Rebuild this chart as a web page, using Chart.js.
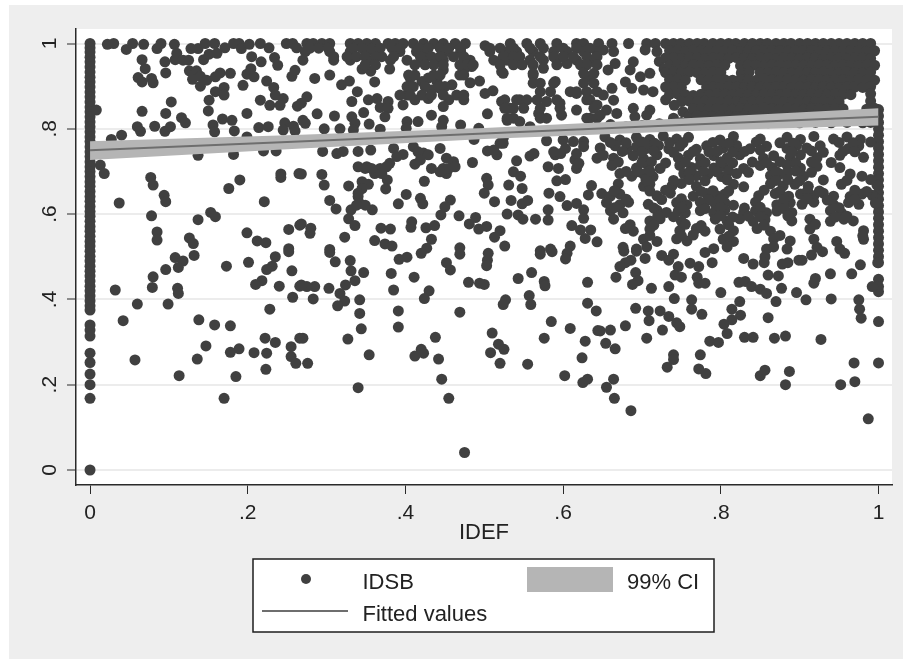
<!DOCTYPE html>
<html><head><meta charset="utf-8">
<style>html,body{margin:0;padding:0;background:#fff}canvas{display:block}#w{width:903px;height:659px;position:relative}</style>
<script src="https://cdn.jsdelivr.net/npm/chart.js@4"></script>
</head><body><div id="w"><canvas id="c" width="903" height="659"></canvas></div>
<script>
const xTickValues=[0,.2,.4,.6,.8,1];
const yTickValues=[0,.2,.4,.6,.8,1];
const tickLabels={0:"0",0.2:".2",0.4:".4",0.6:".6",0.8:".8",1:"1"};
const xTitle="IDEF";
const legendLabels=["IDSB","99% CI","Fitted values"];
const fitX=[0,.25,.5,.75,1];
const fitted=[.7495,.769,.789,.809,.828];
const ciUpper=[.771,.785,.802,.824,.848];
const ciLower=[.727,.752,.776,.794,.808];
const idefZeroIdsb=[1,.99,.98,.968,.957,.945,.933,.921,.91,.898,.886,.875,.863,.851,.84,.828,.816,.805,.793,.781,.77,.758,.746,.735,.723,.711,.7,.688,.676,.665,.653,.641,.63,.618,.606,.595,.583,.571,.56,.548,.536,.525,.513,.501,.49,.478,.466,.455,.443,.431,.42,.408,.397,.385,.375,.34,.328,.314,.274,.252,.225,.2,.168,0];
const idefOneIdsb=[.845,.83,.815,.8,.785,.77,.755,.74,.725,.71,.695,.68,.665,.65,.635,.62,.605,.59,.575,.56,.545,.53,.515,.5,.486,.447,.43,.418,.348,.251];
const leftTop=[[.022,.998],[.03,1],[.046,.986],[.054,1],[.068,.998],[.085,.988],[.09,1],[.107,.998],[.128,.988],[.137,.988],[.146,1],[.158,1],[.171,.99],[.182,1],[.189,1],[.192,.988],[.202,.998],[.216,1],[.227,.99],[.249,1],[.257,1],[.262,.99],[.066,.962],[.07,.941],[.061,.92],[.066,.91],[.078,.918],[.08,.908],[.095,.957],[.096,.931],[.108,.962],[.11,.977],[.118,.961],[.125,.961],[.126,.936],[.135,.936],[.13,.916],[.14,.923],[.14,.9],[.148,.914],[.159,.922],[.165,.931],[.178,.93],[.144,.962],[.151,.975],[.161,.977],[.199,.928],[.204,.941],[.208,.922],[.205,.969],[.217,.957],[.234,.967],[.238,.949],[.256,.923],[.26,.937],[.194,.902],[.224,.912],[.233,.897],[.235,.879],[.245,.871],[.216,.867],[.228,.855],[.241,.855],[.263,.853],[.159,.887],[.17,.897],[.17,.879],[.151,.867],[.15,.842],[.103,.863],[.066,.841],[.096,.836],[.116,.826],[.121,.814],[.199,.836],[.168,.823],[.18,.82],[.156,.809],[.158,.793],[.183,.795],[.06,.805],[.064,.794],[.082,.806],[.095,.794],[.102,.805],[.214,.803],[.226,.805],[.247,.814],[.245,.797],[.258,.806],[.26,.795],[.04,.785],[.027,.775],[.199,.781],[.008,.844]];
const leftLow=[[.182,.74],[.22,.748],[.236,.748],[.137,.738],[.013,.715],[.018,.695],[.077,.686],[.08,.668],[.094,.644],[.096,.629],[.037,.626],[.176,.66],[.19,.68],[.242,.694],[.242,.686],[.265,.695],[.221,.629],[.078,.596],[.153,.604],[.159,.594],[.137,.587],[.252,.564],[.266,.574],[.085,.558],[.085,.539],[.199,.556],[.212,.537],[.223,.533],[.126,.544],[.131,.531],[.252,.519],[.132,.503],[.108,.498],[.118,.49],[.112,.475],[.096,.47],[.08,.453],[.079,.428],[.032,.422],[.111,.426],[.112,.414],[.06,.389],[.099,.389],[.042,.35],[.138,.352],[.158,.34],[.178,.338],[.057,.258],[.136,.26],[.147,.291],[.178,.276],[.189,.284],[.113,.221],[.185,.219],[.17,.168],[.173,.478],[.201,.487],[.235,.5],[.231,.478],[.224,.47],[.256,.467],[.218,.444],[.21,.435],[.24,.431],[.266,.431],[.257,.405],[.228,.377],[.222,.309],[.235,.299],[.266,.309],[.255,.289],[.255,.266],[.261,.25],[.208,.275],[.224,.274],[.223,.236],[.252,.512]];
const midTop=[[.275,1],[.283,1],[.294,1],[.304,1],[.33,1],[.34,1],[.351,1],[.362,1],[.378,1],[.387,1],[.397,1],[.41,1],[.423,1],[.436,1],[.448,1],[.463,1],[.476,1],[.501,.995],[.533,1],[.554,1],[.571,1],[.592,1],[.617,1],[.626,1],[.645,1],[.273,.981],[.304,.981],[.33,.981],[.351,.981],[.366,.981],[.393,.981],[.414,.981],[.427,.981],[.452,.981],[.47,.981],[.507,.981],[.529,.981],[.541,.981],[.562,.981],[.588,.981],[.605,.981],[.626,.981],[.643,.981],[.27,.961],[.309,.961],[.33,.961],[.359,.961],[.381,.961],[.402,.961],[.423,.961],[.44,.961],[.448,.961],[.474,.961],[.482,.961],[.512,.961],[.537,.961],[.529,.961],[.558,.961],[.575,.961],[.592,.961],[.617,.961],[.634,.961],[.285,.918],[.304,.926],[.319,.903],[.329,.912],[.345,.94],[.356,.935],[.361,.91],[.38,.94],[.406,.919],[.421,.911],[.429,.919],[.44,.911],[.448,.938],[.459,.903],[.474,.938],[.484,.946],[.482,.908],[.494,.912],[.522,.934],[.562,.926],[.575,.942],[.59,.911],[.605,.953],[.634,.922],[.402,.879],[.412,.868],[.429,.871],[.444,.895],[.455,.868],[.474,.868],[.397,.856],[.448,.852],[.433,.891],[.501,.883],[.511,.889],[.275,.875],[.268,.86],[.339,.887],[.332,.864],[.353,.868],[.364,.871],[.368,.85],[.378,.864],[.378,.848],[.347,.838],[.374,.828],[.332,.828],[.336,.813],[.288,.835],[.31,.83],[.27,.82],[.273,.813],[.354,.811],[.297,.8],[.317,.8],[.334,.797],[.368,.799],[.402,.817],[.401,.801],[.416,.817],[.433,.832],[.448,.82],[.446,.805],[.47,.809],[.504,.835],[.522,.864],[.545,.868],[.533,.848],[.529,.82],[.545,.817],[.558,.805],[.569,.836],[.579,.825],[.579,.864],[.596,.86],[.598,.832],[.617,.844],[.617,.883],[.634,.868],[.634,.825],[.643,.856],[.493,.801]];
const midTopExtra=[[.279,.989],[.29,.989],[.302,.989],[.334,.989],[.345,.989],[.357,.989],[.368,.989],[.383,.989],[.393,.989],[.417,.989],[.429,.989],[.444,.989],[.455,.989],[.47,.989],[.309,.969],[.326,.969],[.338,.969],[.349,.969],[.362,.969],[.37,.969],[.385,.969],[.419,.969],[.433,.969],[.444,.969],[.461,.969],[.474,.969],[.349,.95],[.362,.95],[.412,.95],[.425,.95],[.436,.95],[.448,.95],[.469,.95],[.478,.95],[.486,.95],[.404,.926],[.412,.926],[.436,.926],[.444,.926],[.469,.926],[.474,.926],[.402,.899],[.41,.899],[.425,.899],[.442,.899],[.45,.899],[.393,.879],[.406,.879],[.421,.879],[.433,.879],[.448,.879],[.465,.879],[.474,.879],[.507,.989],[.52,.989],[.537,.989],[.558,.989],[.575,.989],[.6,.989],[.617,.989],[.634,.989],[.524,.969],[.537,.969],[.545,.969],[.571,.969],[.588,.969],[.6,.969],[.613,.969],[.63,.969],[.643,.969],[.52,.95],[.537,.95],[.548,.95],[.562,.95],[.592,.95],[.622,.95],[.63,.95],[.643,.95],[.524,.93],[.562,.93],[.626,.93],[.639,.93],[.562,.907],[.571,.907],[.588,.907],[.626,.907],[.639,.907],[.571,.887],[.584,.887],[.609,.887],[.617,.887],[.63,.887],[.643,.887],[.526,.868],[.541,.868],[.554,.868],[.567,.868],[.592,.868],[.63,.868],[.526,.848],[.537,.848],[.55,.848],[.571,.848],[.596,.848],[.639,.848],[.537,.825],[.529,.825],[.571,.825],[.63,.825],[.643,.825]];
const midLow=[[.295,.747],[.313,.742],[.321,.747],[.34,.747],[.356,.75],[.385,.754],[.397,.74],[.38,.719],[.368,.707],[.361,.695],[.34,.711],[.351,.711],[.412,.717],[.423,.743],[.444,.754],[.41,.758],[.452,.731],[.461,.723],[.448,.707],[.433,.707],[.452,.695],[.485,.721],[.487,.775],[.504,.748],[.516,.739],[.524,.766],[.541,.725],[.558,.736],[.579,.772],[.581,.711],[.594,.707],[.6,.774],[.613,.77],[.626,.77],[.59,.739],[.603,.754],[.626,.758],[.615,.727],[.617,.707],[.643,.731],[.537,.699],[.546,.689],[.268,.694],[.294,.693],[.297,.668],[.328,.666],[.345,.676],[.353,.67],[.345,.66],[.377,.68],[.375,.659],[.424,.677],[.503,.684],[.505,.668],[.5,.649],[.531,.668],[.548,.66],[.592,.678],[.603,.681],[.636,.667],[.632,.645],[.582,.649],[.596,.641],[.304,.632],[.312,.612],[.34,.641],[.342,.625],[.331,.61],[.358,.61],[.328,.589],[.336,.573],[.391,.624],[.401,.646],[.419,.637],[.422,.624],[.457,.633],[.45,.617],[.445,.598],[.513,.629],[.534,.632],[.548,.624],[.555,.632],[.605,.62],[.617,.625],[.626,.61],[.581,.61],[.529,.6],[.543,.598],[.549,.588],[.565,.588],[.581,.586],[.626,.59],[.468,.596],[.489,.592],[.481,.577],[.268,.577],[.28,.567],[.279,.555],[.323,.546],[.369,.567],[.381,.565],[.408,.582],[.407,.569],[.426,.568],[.437,.573],[.493,.565],[.503,.571],[.52,.561],[.513,.546],[.361,.538],[.374,.53],[.383,.525],[.433,.541],[.611,.573],[.635,.563],[.628,.543],[.622,.563],[.304,.517],[.427,.52],[.469,.521],[.526,.525],[.571,.514],[.584,.518],[.609,.525],[.643,.535],[.304,.51],[.311,.488],[.33,.491],[.331,.467],[.347,.463],[.336,.444],[.324,.434],[.303,.426],[.285,.43],[.275,.43],[.268,.434],[.283,.401],[.317,.414],[.323,.396],[.314,.385],[.342,.399],[.342,.367],[.344,.331],[.327,.307],[.27,.309],[.276,.25],[.354,.27],[.34,.193],[.382,.461],[.385,.422],[.391,.373],[.391,.335],[.392,.494],[.402,.499],[.411,.452],[.42,.508],[.43,.42],[.424,.402],[.452,.486],[.457,.469],[.469,.506],[.48,.44],[.494,.438],[.5,.435],[.469,.37],[.438,.311],[.42,.283],[.412,.267],[.423,.274],[.442,.26],[.446,.213],[.455,.168],[.475,.041],[.505,.508],[.504,.492],[.503,.479],[.543,.449],[.56,.463],[.576,.442],[.577,.432],[.571,.506],[.586,.512],[.605,.508],[.603,.495],[.631,.44],[.631,.391],[.642,.373],[.527,.399],[.524,.388],[.557,.409],[.559,.388],[.585,.348],[.609,.332],[.644,.327],[.576,.309],[.628,.302],[.624,.263],[.51,.321],[.518,.295],[.525,.283],[.508,.275],[.52,.25],[.555,.248],[.602,.221],[.625,.205],[.631,.213]];
const midLowExtra=[[.416,.746],[.429,.739],[.419,.727],[.389,.735],[.376,.711],[.455,.707],[.463,.711],[.444,.699],[.349,.707],[.357,.707],[.37,.695],[.34,.649],[.349,.621],[.338,.621],[.588,.746],[.597,.742],[.617,.742],[.512,.75],[.524,.778],[.52,.766],[.563,.742],[.62,.719]];
const rightLow=[[.677,.513],[.693,.513],[.704,.496],[.725,.503],[.734,.492],[.74,.506],[.686,.492],[.679,.486],[.672,.477],[.667,.452],[.692,.463],[.695,.444],[.688,.435],[.712,.426],[.734,.43],[.741,.402],[.742,.457],[.75,.452],[.746,.477],[.761,.485],[.772,.477],[.77,.452],[.772,.438],[.78,.438],[.789,.486],[.78,.51],[.8,.416],[.829,.496],[.841,.483],[.856,.5],[.855,.486],[.86,.457],[.873,.455],[.878,.483],[.885,.486],[.899,.492],[.903,.492],[.915,.504],[.929,.512],[.957,.508],[.977,.481],[.999,.486],[.939,.46],[.966,.46],[.92,.449],[.918,.438],[.992,.43],[.823,.44],[.831,.442],[.839,.43],[.85,.424],[.858,.414],[.87,.395],[.877,.426],[.896,.416],[.908,.399],[.94,.401],[.975,.399],[.976,.377],[.978,.356],[.824,.395],[.814,.377],[.825,.363],[.814,.352],[.804,.342],[.808,.32],[.86,.357],[.83,.311],[.841,.311],[.868,.309],[.882,.314],[.927,.306],[.786,.302],[.797,.299],[.763,.399],[.763,.377],[.776,.365],[.692,.379],[.708,.373],[.709,.35],[.723,.373],[.734,.36],[.744,.345],[.748,.336],[.726,.328],[.706,.309],[.679,.338],[.66,.328],[.647,.326],[.654,.297],[.666,.284],[.74,.27],[.74,.259],[.732,.241],[.774,.27],[.772,.237],[.781,.226],[.664,.213],[.655,.194],[.665,.168],[.686,.139],[.85,.221],[.856,.234],[.887,.231],[.882,.2],[.969,.251],[.97,.207],[.952,.2],[.987,.12]];
const rightMid1=[[.653,.781],[.672,.774],[.693,.78],[.71,.775],[.727,.783],[.744,.776],[.759,.78],[.799,.774],[.816,.782],[.85,.776],[.884,.78],[.901,.775],[.918,.782],[.943,.776],[.96,.781],[.977,.775],[.647,.755],[.666,.76],[.681,.752],[.693,.758],[.706,.754],[.721,.761],[.734,.753],[.748,.759],[.769,.752],[.782,.76],[.803,.755],[.82,.761],[.837,.753],[.858,.759],[.884,.754],[.896,.761],[.909,.755],[.926,.76],[.962,.754],[.975,.76],[.651,.738],[.664,.731],[.689,.737],[.702,.73],[.719,.739],[.746,.732],[.759,.738],[.774,.73],[.791,.737],[.808,.732],[.824,.739],[.854,.731],[.867,.737],[.888,.733],[.901,.739],[.922,.732],[.951,.738],[.981,.733],[.662,.714],[.693,.708],[.708,.713],[.723,.707],[.748,.714],[.763,.709],[.774,.715],[.791,.708],[.803,.713],[.829,.707],[.85,.714],[.865,.709],[.884,.715],[.901,.708],[.922,.712],[.951,.709],[.672,.695],[.687,.689],[.702,.694],[.714,.688],[.753,.695],[.769,.69],[.784,.694],[.801,.688],[.82,.695],[.863,.69],[.875,.694],[.905,.689],[.964,.694],[.979,.689]];
const rightMid2=[[.67,.671],[.702,.665],[.71,.67],[.738,.666],[.75,.672],[.769,.665],[.816,.67],[.829,.664],[.863,.671],[.879,.666],[.894,.67],[.911,.665],[.953,.67],[.998,.668],[.649,.648],[.66,.642],[.672,.647],[.719,.643],[.736,.649],[.765,.642],[.782,.648],[.795,.643],[.805,.647],[.848,.643],[.869,.648],[.886,.642],[.901,.647],[.918,.643],[.93,.649],[.943,.642],[.979,.647],[.964,.641],[.992,.644],[.655,.627],[.672,.622],[.683,.628],[.708,.623],[.744,.627],[.757,.622],[.774,.628],[.793,.623],[.805,.627],[.816,.621],[.844,.628],[.871,.622],[.888,.627],[.903,.623],[.918,.628],[.943,.622],[.962,.627],[.975,.623],[.996,.626],[.66,.608],[.676,.603],[.719,.609],[.731,.604],[.746,.607],[.755,.603],[.774,.608],[.791,.603],[.805,.609],[.829,.604],[.844,.608],[.858,.603],[.871,.607],[.89,.604],[.939,.608],[.953,.603],[.664,.588],[.71,.584],[.723,.589],[.75,.583],[.793,.588],[.808,.584],[.824,.589],[.841,.583],[.856,.587],[.89,.584],[.913,.588],[.939,.583],[.956,.588],[.968,.584],[.679,.566],[.689,.56],[.71,.565],[.748,.561],[.769,.566],[.78,.56],[.799,.565],[.816,.561],[.846,.566],[.863,.56],[.913,.565],[.981,.561],[.702,.541],[.719,.536],[.744,.542],[.757,.537],[.803,.541],[.816,.536],[.867,.542],[.888,.537],[.918,.541],[.947,.536],[.981,.541],[.676,.522],[.693,.518],[.706,.523],[.791,.519],[.808,.523],[.858,.518],[.867,.523],[.884,.518],[.922,.522],[.951,.518]];
const rightMid3=[[.66,.768],[.68,.767],[.7,.769],[.716,.766],[.735,.768],[.752,.767],[.79,.768],[.81,.766],[.845,.769],[.875,.767],[.892,.766],[.95,.768],[.968,.767],[.99,.769],[.675,.747],[.7,.746],[.715,.748],[.74,.745],[.765,.747],[.785,.746],[.796,.748],[.815,.745],[.83,.747],[.85,.75],[.89,.746],[.915,.748],[.93,.745],[.955,.747],[.97,.746],[.67,.722],[.7,.721],[.712,.723],[.73,.72],[.755,.722],[.78,.721],[.8,.723],[.815,.72],[.84,.722],[.858,.721],[.875,.723],[.895,.72],[.915,.722],[.94,.721],[.68,.7],[.695,.699],[.71,.701],[.76,.698],[.778,.7],[.795,.699],[.81,.701],[.835,.698],[.87,.7],[.885,.699],[.895,.701],[.915,.698],[.705,.68],[.74,.679],[.76,.681],[.78,.678],[.808,.68],[.87,.679],[.885,.681],[.9,.678],[.93,.68],[.96,.679],[.99,.681],[.665,.655],[.71,.654],[.73,.656],[.775,.653],[.79,.655],[.81,.654],[.855,.656],[.875,.653],[.91,.655],[.925,.654],[.97,.656],[.985,.653],[.68,.635],[.725,.634],[.75,.636],[.785,.633],[.8,.635],[.88,.634],[.91,.636],[.935,.633],[.97,.635],[.665,.615],[.715,.614],[.75,.616],[.78,.613],[.8,.615],[.83,.614],[.85,.616],[.88,.613],[.95,.615],[.72,.595],[.74,.594],[.8,.596],[.815,.593],[.835,.595],[.85,.594],[.885,.596],[.945,.593],[.96,.595],[.685,.575],[.715,.574],[.755,.576],[.775,.573],[.81,.575],[.855,.574],[.92,.576],[.71,.55],[.75,.549],[.765,.551],[.81,.548],[.875,.55],[.98,.549]];
const rightLeftTop=[[.662,1],[.683,1],[.706,1],[.717,1],[.651,.985],[.664,.981],[.657,.938],[.666,.953],[.689,.957],[.685,.938],[.698,.922],[.71,.93],[.704,.985],[.719,.981],[.679,.91],[.687,.895],[.702,.891],[.714,.887],[.662,.895],[.664,.867],[.651,.879],[.668,.836],[.655,.844],[.689,.848],[.691,.828],[.71,.844],[.706,.832],[.647,.832],[.722,.958],[.728,.94],[.735,.925],[.73,.868],[.741,.855],[.752,.84],[.76,.83],[.74,.825],[.722,.812],[.735,.808],[.7,.808],[.68,.805],[.66,.81]];
const denseRowA=[[.73,1],[.74,1],[.749,1],[.76,1],[.77,1],[.779,1],[.79,1],[.8,1],[.81,1],[.819,1],[.83,1],[.84,1],[.85,1],[.859,1],[.87,1],[.88,1],[.889,1],[.9,1],[.91,1],[.92,1],[.93,1],[.94,1],[.95,1],[.96,1],[.97,1],[.98,1],[.99,1],[.735,.983],[.745,.984],[.755,.982],[.765,.984],[.775,.983],[.785,.982],[.795,.984],[.805,.983],[.815,.984],[.825,.982],[.835,.983],[.845,.984],[.855,.982],[.865,.984],[.875,.983],[.885,.982],[.895,.984],[.905,.983],[.915,.984],[.925,.982],[.935,.983],[.945,.984],[.955,.982],[.965,.984],[.975,.983],[.985,.982],[.995,.983],[.73,.966],[.74,.967],[.75,.965],[.76,.967],[.77,.966],[.78,.965],[.79,.967],[.8,.966],[.81,.965],[.82,.967],[.83,.966],[.84,.965],[.85,.967],[.86,.966],[.87,.965],[.88,.967],[.89,.966],[.9,.965],[.91,.967],[.92,.966],[.93,.965],[.94,.967],[.95,.966],[.96,.965],[.97,.967],[.98,.966],[.99,.965]];
const denseRowB=[[.735,.949],[.745,.95],[.755,.948],[.765,.95],[.775,.949],[.785,.948],[.795,.95],[.805,.949],[.825,.948],[.835,.95],[.845,.949],[.855,.948],[.865,.95],[.875,.949],[.885,.948],[.895,.95],[.905,.949],[.915,.948],[.925,.95],[.935,.949],[.945,.948],[.955,.95],[.965,.949],[.975,.948],[.985,.95],[.995,.949],[.73,.932],[.74,.933],[.75,.931],[.76,.933],[.77,.932],[.78,.931],[.79,.933],[.8,.932],[.826,.931],[.836,.933],[.85,.932],[.86,.931],[.87,.933],[.88,.932],[.89,.931],[.9,.933],[.91,.932],[.92,.931],[.93,.933],[.94,.932],[.95,.931],[.96,.933],[.97,.932],[.98,.931],[.99,.933],[.735,.915],[.745,.916],[.755,.914],[.775,.915],[.785,.914],[.795,.916],[.805,.915],[.815,.914],[.825,.916],[.835,.915],[.845,.914],[.855,.916],[.865,.915],[.875,.914],[.885,.916],[.895,.915],[.905,.914],[.915,.916],[.925,.915],[.935,.914],[.945,.916],[.955,.915],[.965,.914],[.975,.916],[.985,.915],[.995,.914],[.73,.898],[.74,.899],[.75,.897],[.782,.898],[.79,.899],[.8,.897],[.81,.899],[.82,.898],[.83,.897],[.84,.899],[.85,.898],[.86,.897],[.87,.899],[.88,.898],[.89,.897],[.9,.899],[.91,.898],[.92,.897],[.93,.899],[.94,.898],[.95,.897],[.96,.899],[.97,.898],[.98,.897],[.99,.899]];
const denseRowC=[[.735,.881],[.745,.882],[.755,.88],[.765,.878],[.775,.881],[.785,.88],[.795,.882],[.805,.881],[.815,.88],[.825,.882],[.835,.881],[.845,.88],[.855,.882],[.865,.881],[.875,.88],[.885,.882],[.895,.881],[.905,.88],[.915,.882],[.925,.881],[.935,.88],[.945,.882],[.955,.881],[.965,.88],[.99,.882],[.75,.864],[.76,.865],[.77,.863],[.78,.865],[.79,.864],[.8,.863],[.81,.865],[.82,.864],[.83,.863],[.84,.865],[.85,.864],[.86,.863],[.87,.865],[.88,.864],[.89,.863],[.9,.865],[.91,.864],[.92,.863],[.93,.865],[.94,.864],[.95,.863],[.99,.865],[.765,.847],[.775,.848],[.785,.846],[.795,.848],[.805,.847],[.815,.846],[.825,.848],[.835,.847],[.845,.846],[.855,.848],[.865,.847],[.875,.846],[.885,.848],[.895,.847],[.905,.846],[.915,.848],[.925,.847],[.935,.846],[.945,.848],[.955,.847],[.985,.846],[.995,.848],[.77,.83],[.78,.831],[.79,.829],[.8,.831],[.81,.83],[.82,.829],[.83,.831],[.84,.83],[.85,.829],[.86,.831],[.87,.83],[.88,.829],[.89,.831],[.9,.83],[.91,.829],[.92,.831],[.93,.83],[.94,.829],[.75,.815],[.78,.814],[.8,.815],[.82,.814],[.84,.815],[.86,.814],[.88,.815],[.9,.814],[.92,.815],[.94,.814],[.96,.815],[.98,.814],[.99,.815]];

const xMin=-.0178,xMax=1.0171,yMin=-.0352,yMax=1.034;
const INK='#404040',BAND='#b5b5b5',LINE='#6e6e6e',AXIS='#2a2a2a',FONT='"Liberation Sans", Arial, sans-serif';
const idsbPoints=[...idefZeroIdsb.map(y=>({x:0,y})),...idefOneIdsb.map(y=>({x:1,y})),
 ...[leftTop,leftLow,midTop,midTopExtra,midLow,midLowExtra,rightLow,rightMid1,rightMid2,rightMid3,rightLeftTop,denseRowA,denseRowB,denseRowC].flat().map(([x,y])=>({x,y}))];
const fitSeries=a=>fitX.map((x,i)=>({x,y:a[i]}));

const chrome={id:'chrome',
 beforeDraw(ch){const c=ch.ctx;c.save();c.fillStyle='#fff';c.fillRect(0,0,903,659);
  c.fillStyle='#eeeeee';c.fillRect(9,5,894,654);
  const a=ch.chartArea;c.fillStyle='#fff';c.fillRect(a.left,a.top,a.right-a.left,a.bottom-a.top);c.restore();},
 afterDraw(ch){const c=ch.ctx;c.save();
  c.fillStyle='#fff';c.strokeStyle='#1e1e1e';c.lineWidth=1.5;c.fillRect(253,559,461,73);c.strokeRect(253,559,461,73);
  c.fillStyle=INK;c.beginPath();c.arc(306,579,5,0,Math.PI*2);c.fill();
  c.fillStyle=BAND;c.fillRect(527,567,86,25);
  c.strokeStyle=LINE;c.lineWidth=2;c.beginPath();c.moveTo(262,611);c.lineTo(348,611);c.stroke();
  c.fillStyle='#222';c.font='22px '+FONT;c.textAlign='left';c.textBaseline='alphabetic';
  c.fillText(legendLabels[0],362.5,589);c.fillText(legendLabels[1],627,589);c.fillText(legendLabels[2],362.5,621);
  c.restore();}};

new Chart(document.getElementById('c'),{type:'scatter',plugins:[chrome],
 data:{datasets:[
  {label:legendLabels[0],data:idsbPoints,order:3,backgroundColor:INK,borderWidth:0,pointRadius:5.5,pointBorderWidth:0,pointHoverRadius:5.5},
  {label:legendLabels[1],data:fitSeries(ciUpper),order:2,showLine:true,pointRadius:0,borderWidth:0,borderColor:BAND,backgroundColor:BAND,fill:'+1'},
  {label:'ci lower',data:fitSeries(ciLower),order:2,showLine:true,pointRadius:0,borderWidth:0,borderColor:BAND,backgroundColor:BAND,fill:false},
  {label:legendLabels[2],data:fitSeries(fitted),order:1,showLine:true,pointRadius:0,borderWidth:2,borderColor:LINE,fill:false}
 ]},
 options:{responsive:false,animation:false,devicePixelRatio:1,
  layout:{padding:{top:29,right:11,left:0,bottom:0}},
  plugins:{legend:{display:false},tooltip:{enabled:false}},
  scales:{
   x:{type:'linear',min:xMin,max:xMax,
    afterBuildTicks(s){s.ticks=xTickValues.map(value=>({value}));},
    afterFit(s){s.height=174;},
    border:{color:AXIS,width:1.5},
    grid:{drawOnChartArea:false,drawTicks:true,tickLength:9,tickColor:AXIS,tickWidth:1},
    ticks:{callback:v=>tickLabels[v],color:'#222',font:{family:FONT,size:21},padding:7,maxRotation:0,autoSkip:false},
    title:{display:true,text:xTitle,color:'#222',font:{family:FONT,size:22},padding:{top:0,bottom:113}}},
   y:{type:'linear',min:yMin,max:yMax,
    afterBuildTicks(s){s.ticks=yTickValues.map(value=>({value}));},
    afterFit(s){s.width=76;},
    border:{color:AXIS,width:1.5},
    grid:{color:'#ececec',lineWidth:2,drawTicks:true,tickLength:9,tickColor:AXIS,tickWidth:1},
    ticks:{callback:v=>tickLabels[v],color:'#222',font:{family:FONT,size:21},padding:8,minRotation:90,maxRotation:90,crossAlign:'center',autoSkip:false}}
  }}});
</script></body></html>
